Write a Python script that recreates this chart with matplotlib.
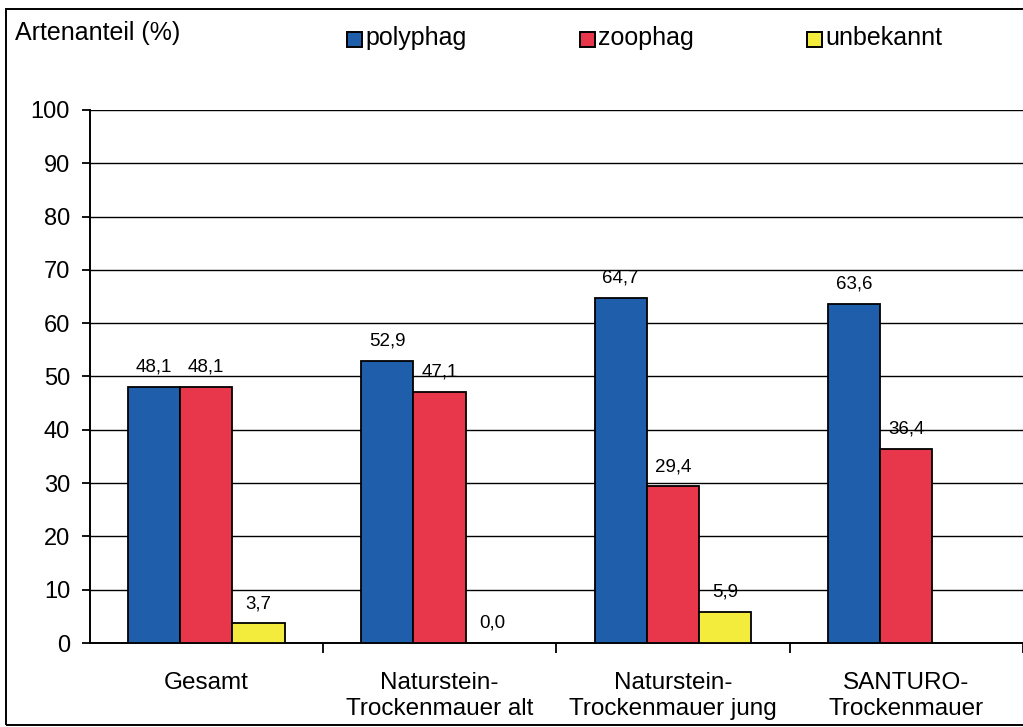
import numpy as np
import matplotlib
matplotlib.use("Agg")
import matplotlib.pyplot as plt
from matplotlib.patches import Rectangle

plt.rcParams["font.family"] = ["Liberation Sans", "DejaVu Sans"]

categories = ["Gesamt", "Naturstein-\nTrockenmauer alt",
              "Naturstein-\nTrockenmauer jung", "SANTURO-\nTrockenmauer"]
series_names = ["polyphag", "zoophag", "unbekannt"]
polyphag = [48.1, 52.9, 64.7, 63.6]
zoophag = [48.1, 47.1, 29.4, 36.4]
unbekannt = [3.7, 0.0, 5.9, np.nan]
colors = ["#1f5eab", "#e8374a", "#f4ec3c"]
y_ticks = list(range(0, 101, 10))

W, H = 1023, 727
fig = plt.figure(figsize=(W / 100, H / 100), dpi=100)

# outer frame around the whole chart
fig.patches.append(Rectangle((6 / W, 2 / H), 1.2, 1 - 11 / H, transform=fig.transFigure,
                             fill=False, edgecolor="black", linewidth=1.4))

left_px, cat_px = 89.5, 237.0
ax = fig.add_axes([left_px / W, 1 - 643 / H, 1 - left_px / W, (643 - 110) / H])
x = np.arange(len(categories))
width = 0.224
values = [polyphag, zoophag, unbekannt]
for i, (vals, col) in enumerate(zip(values, colors)):
    pos = x + (i - 1) * width
    ax.bar(pos, vals, width, color=col, edgecolor="black", linewidth=1.3, zorder=3)
    for p, v in zip(pos, vals):
        if np.isnan(v):
            continue
        ax.annotate(f"{v:.1f}".replace(".", ","), (p, v), xytext=(0, 11),
                    textcoords="offset points", ha="center", va="baseline", fontsize=13.5)

ax.set_xlim(-0.5, -0.5 + (W - left_px) / cat_px)
ax.set_ylim(0, 100)
ax.set_yticks(y_ticks)
ax.tick_params(axis="y", labelsize=17, length=6, width=1.3, pad=8, direction="out")
ax.yaxis.grid(True, color="black", linewidth=1.0, zorder=0)
ax.set_xticks(x + 0.5)
ax.set_xticklabels([])
ax.tick_params(axis="x", length=7, width=1.3, direction="out")
ax.set_xticks(x, minor=True)
ax.set_xticklabels(categories, minor=True, fontsize=17.5, linespacing=1.25, va="top")
ax.tick_params(axis="x", which="minor", length=0, pad=21)
for s in ["top", "right"]:
    ax.spines[s].set_visible(False)
ax.spines["left"].set_linewidth(1.4)
ax.spines["bottom"].set_linewidth(1.4)

# axis caption and legend row
fig.text(15 / W, 1 - 33 / H, "Artenanteil (%)", fontsize=18, ha="left", va="center")
legend_x = [347, 580, 807]
for lx, name, col in zip(legend_x, series_names, colors):
    fig.patches.append(Rectangle((lx / W, 1 - 47 / H), 15 / W, 15 / H, transform=fig.transFigure,
                                 facecolor=col, edgecolor="black", linewidth=1.4))
    fig.text((lx + 18) / W, 1 - 38 / H, name, fontsize=18, ha="left", va="center")

fig.savefig("out.png", dpi=100)
